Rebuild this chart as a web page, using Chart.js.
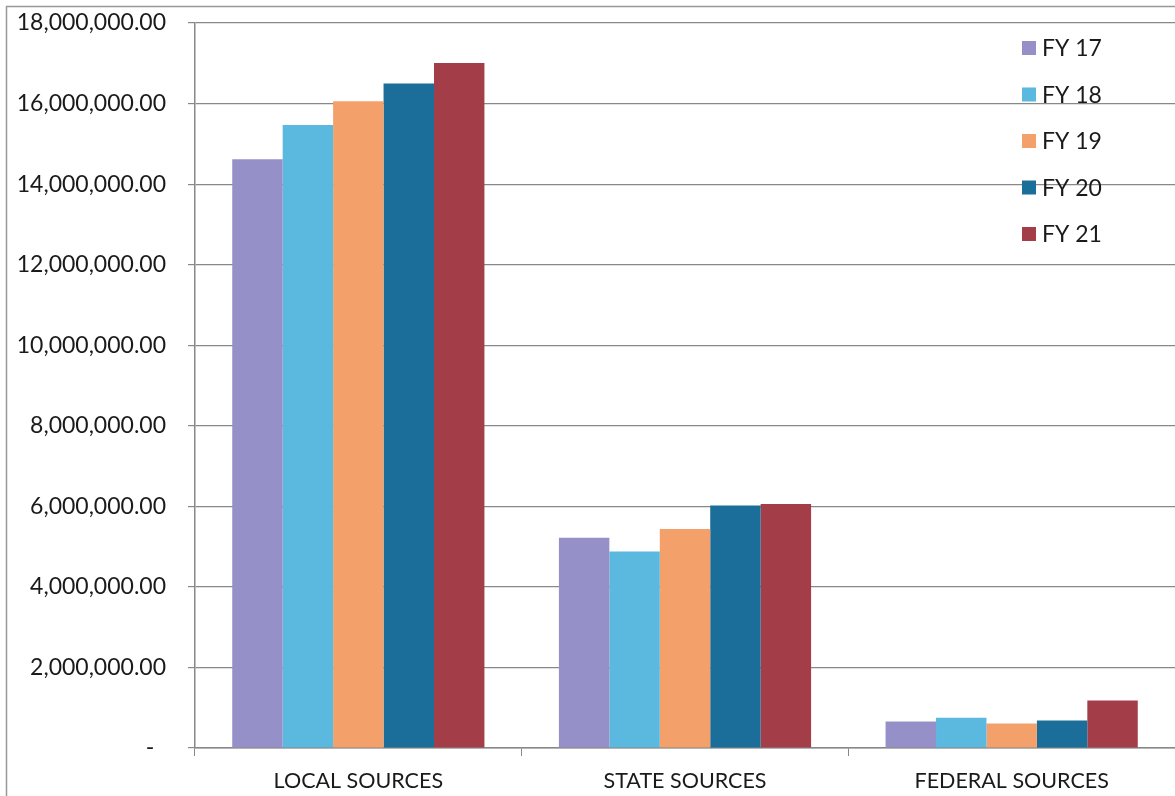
<!DOCTYPE html>
<html>
<head>
<meta charset="utf-8">
<script src="https://cdn.jsdelivr.net/npm/chart.js@4.4.1/dist/chart.umd.min.js"></script>
<style>
  html, body { margin: 0; padding: 0; background: #fff; }
  #wrap { width: 1175px; height: 796px; position: relative; }
</style>
</head>
<body>
<div id="wrap"><canvas id="chart"></canvas></div>
<script>
// Categories and series
var categories = ["LOCAL SOURCES", "STATE SOURCES", "FEDERAL SOURCES"];
var seriesNames = ["FY 17", "FY 18", "FY 19", "FY 20", "FY 21"];
var fy17 = [14620000, 5220000, 660000];
var fy18 = [15470000, 4880000, 750000];
var fy19 = [16060000, 5440000, 610000];
var fy20 = [16500000, 6020000, 680000];
var fy21 = [17010000, 6060000, 1180000];
var seriesColors = ["#9590c8", "#5bb8de", "#f4a06a", "#1a6e99", "#a33e48"];

var seriesValues = [fy17, fy18, fy19, fy20, fy21];
var fontFamily = "Lato, 'Open Sans', sans-serif";
var textColor = "#1a1a1a";

// Function to format the y tick labels like the spreadsheet
function formatMoney(v) {
  if (v === 0) return "-  ";
  return v.toLocaleString("en-US", { minimumFractionDigits: 2, maximumFractionDigits: 2 });
}

// Legend drawn inside the plot, top right
var insideLegend = {
  id: "insideLegend",
  afterDraw: function (chart) {
    var ctx = chart.ctx;
    ctx.save();
    ctx.font = "23px " + fontFamily;
    ctx.textBaseline = "middle";
    chart.data.datasets.forEach(function (ds, i) {
      var y = 48 + i * 46.5;
      ctx.fillStyle = ds.backgroundColor;
      ctx.fillRect(1022, y - 7, 14, 14);
      ctx.fillStyle = textColor;
      ctx.fillText(ds.label, 1042, y + 1);
    });
    ctx.restore();
  }
};

// Outer frame of the scanned sheet
var frame = {
  id: "frame",
  beforeDraw: function (chart) {
    var ctx = chart.ctx;
    ctx.save();
    ctx.strokeStyle = "#999";
    ctx.lineWidth = 1.5;
    ctx.strokeRect(6.5, 6.5, 1300, 1000);
    ctx.restore();
  }
};

var datasets = seriesNames.map(function (name, i) {
  return {
    label: name,
    data: seriesValues[i],
    backgroundColor: seriesColors[i],
    borderWidth: 0,
    categoryPercentage: 0.772,
    barPercentage: 1.0
  };
});

var ctx = document.getElementById("chart").getContext("2d");
var chart = new Chart(ctx, {
  type: "bar",
  data: { labels: categories, datasets: datasets },
  plugins: [frame, insideLegend],
  options: {
    responsive: true,
    maintainAspectRatio: false,
    animation: false,
    layout: { padding: { top: 23, right: 0, bottom: 0, left: 10 } },
    plugins: {
      legend: { display: false },
      tooltip: { enabled: false }
    },
    scales: {
      x: {
        grid: {
          offset: true,
          drawOnChartArea: false,
          drawTicks: true,
          tickLength: 8,
          color: "#888"
        },
        border: { display: true, color: "#888", width: 1.5 },
        ticks: {
          padding: 12,
          color: textColor,
          font: { family: fontFamily, size: 21.5 }
        },
        afterFit: function (s) { s.height = 48; s.paddingRight = 0; s.paddingLeft = 0; }
      },
      y: {
        min: 0,
        max: 18000000,
        grid: {
          color: "#888",
          lineWidth: 1.2,
          drawTicks: true,
          tickLength: 7
        },
        border: { display: true, color: "#888", width: 1.5 },
        ticks: {
          stepSize: 2000000,
          padding: 22,
          color: textColor,
          font: { family: fontFamily, size: 23 },
          callback: function (v) { return formatMoney(v); }
        },
        afterFit: function (s) { s.width = 185; s.paddingTop = 0; s.paddingBottom = 0; }
      }
    }
  }
});
</script>
</body>
</html>
